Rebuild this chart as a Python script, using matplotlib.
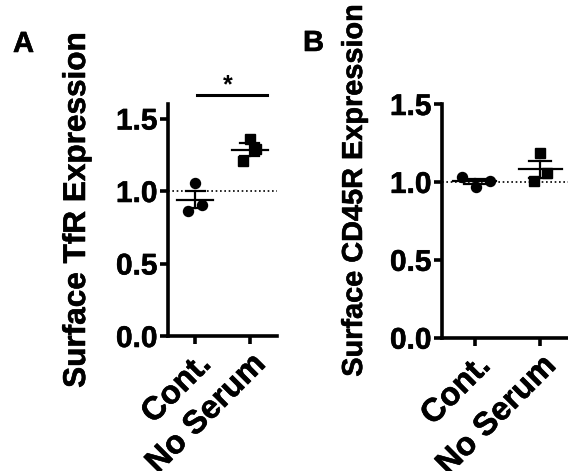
import numpy as np
import matplotlib.pyplot as plt
import matplotlib.patheffects as pe

plt.rcParams['font.family'] = ['Liberation Sans', 'DejaVu Sans']
plt.rcParams['font.weight'] = 'bold'

grupos = ['Cont.', 'No Serum']

# panel A - TfR
tfr_cont = [1.055, 0.86, 0.904]
tfr_ns = [1.36, 1.29, 1.207]
tfr_jit_cont = [0.0, -0.13, 0.13]
tfr_jit_ns = [0.0, 0.11, -0.13]

# panel B - CD45R
cd_cont = [1.031, 0.970, 1.007]
cd_ns = [1.185, 1.057, 1.003]
cd_jit_cont = [-0.2, 0.02, 0.23]
cd_jit_ns = [0.0, 0.11, -0.1]

W, H = 568, 471
fig = plt.figure(figsize=(W/100, H/100), dpi=100)
grueso = [pe.withStroke(linewidth=0.4, foreground='black')]

def panel(rect, cont, ns, jc, jn, ymax, ylabel, lab_xy, lab_size):
    ax = fig.add_axes(rect)
    for i, (vals, jit, mk, ms) in enumerate([(cont, jc, 'o', 7.2), (ns, jn, 's', 7.4)]):
        vals = np.array(vals)
        ax.plot(i + np.array(jit), vals, mk, color='black', ms=ms, zorder=3)
        media = vals.mean()
        sem = vals.std(ddof=1)/np.sqrt(len(vals))
        ax.plot([i-0.33, i+0.33], [media, media], color='black', lw=1.6, zorder=4)
        ax.plot([i, i], [media-sem, media+sem], color='black', lw=1.6, zorder=4)
        for y in (media-sem, media+sem):
            ax.plot([i-0.17, i+0.17], [y, y], color='black', lw=1.6, zorder=4)
    ax.axhline(1.0, color='black', ls=(0, (1, 1.6)), lw=1.2, zorder=1)
    ax.set_xlim(-0.5, 1.5)
    ax.set_ylim(0, ymax)
    ax.set_yticks([0, 0.5, 1.0, 1.5])
    ax.set_yticklabels(['0.0', '0.5', '1.0', '1.5'], fontsize=21.5, fontweight='bold')
    ax.set_xticks([0, 1])
    ax.set_xticklabels(grupos, fontsize=23.5, fontweight='bold', rotation=45,
                       ha='right', va='top', rotation_mode='anchor')
    for t in ax.get_xticklabels() + ax.get_yticklabels():
        t.set_path_effects(grueso)
    for s in ['top', 'right']:
        ax.spines[s].set_visible(False)
    for s in ['left', 'bottom']:
        ax.spines[s].set_linewidth(2.6)
    ax.tick_params(width=2.6, length=6, pad=1.5)
    ax.tick_params(axis='x', pad=3)
    fig.text(lab_xy[0]/W, 1 - lab_xy[1]/H, ylabel, rotation=90, ha='center', va='center',
             fontsize=lab_size, fontweight='bold', path_effects=grueso)
    return ax

axA = panel([168/W, (H-336)/H, 109/W, (336-104)/H], tfr_cont, tfr_ns, tfr_jit_cont, tfr_jit_ns,
            1.6, 'Surface TfR Expression', (77, 210), 22.7)
axA.plot([0.03, 1.32], [1.665, 1.665], color='black', lw=2.2, clip_on=False)
axA.text(0.6, 1.73, '*', ha='center', va='center', fontsize=18, fontweight='bold')

axB = panel([442/W, (H-337.7)/H, 131/W, (337.7-104)/H], cd_cont, cd_ns, cd_jit_cont, cd_jit_ns,
            1.5, 'Surface CD45R Expression', (354, 191), 20.8)

fig.text(13/W, 1-52/H, 'A', fontsize=21, fontweight='bold', ha='left', va='baseline',
         path_effects=grueso)
fig.text(303/W, 1-51/H, 'B', fontsize=21, fontweight='bold', ha='left', va='baseline',
         path_effects=grueso)

fig.savefig('out.png', dpi=100)
